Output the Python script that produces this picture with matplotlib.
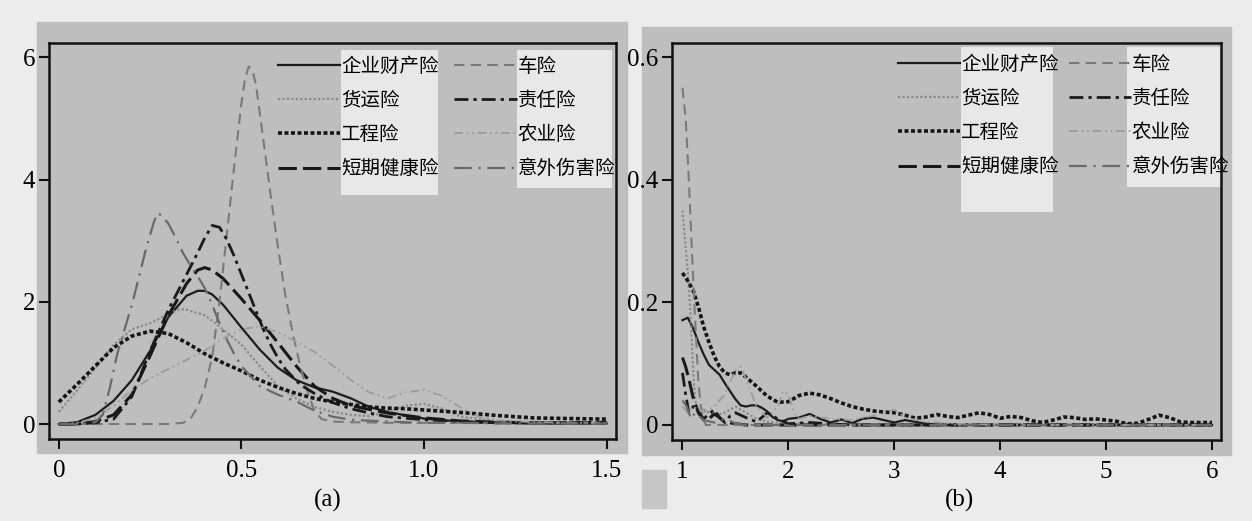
import matplotlib
matplotlib.use("Agg")
import matplotlib.pyplot as plt
from matplotlib.patches import Rectangle

# ---------------- data: panel (a) ----------------
names = ["企业财产险", "货运险", "工程险", "短期健康险", "车险", "责任险", "农业险", "意外伤害险"]

a_qy_x = [0, 0.05, 0.1, 0.15, 0.2, 0.25, 0.3, 0.35, 0.38, 0.4, 0.42, 0.45, 0.5, 0.55, 0.6, 0.65, 0.7, 0.75, 0.8, 0.85, 0.9, 0.95, 1.0, 1.1, 1.2, 1.3, 1.4, 1.5]
a_qy_y = [0.0, 0.03, 0.15, 0.38, 0.72, 1.2, 1.75, 2.1, 2.18, 2.18, 2.12, 1.95, 1.58, 1.22, 0.92, 0.72, 0.6, 0.53, 0.42, 0.28, 0.2, 0.14, 0.09, 0.04, 0.02, 0.01, 0.01, 0.01]

a_hy_x = [0, 0.05, 0.1, 0.15, 0.2, 0.25, 0.3, 0.33, 0.35, 0.4, 0.45, 0.5, 0.55, 0.6, 0.65, 0.7, 0.75, 0.8, 0.85, 0.9, 0.95, 1.0, 1.05, 1.1, 1.2, 1.3, 1.4, 1.5]
a_hy_y = [0.2, 0.55, 0.92, 1.3, 1.55, 1.65, 1.8, 1.88, 1.87, 1.78, 1.55, 1.3, 0.95, 0.62, 0.42, 0.28, 0.2, 0.15, 0.13, 0.2, 0.3, 0.33, 0.25, 0.12, 0.05, 0.03, 0.03, 0.03]

a_gc_x = [0, 0.05, 0.1, 0.15, 0.2, 0.25, 0.3, 0.35, 0.4, 0.45, 0.5, 0.55, 0.6, 0.65, 0.7, 0.75, 0.8, 0.85, 0.9, 0.95, 1.0, 1.1, 1.2, 1.3, 1.4, 1.5]
a_gc_y = [0.36, 0.65, 0.95, 1.25, 1.44, 1.52, 1.48, 1.33, 1.15, 1.0, 0.87, 0.72, 0.6, 0.5, 0.42, 0.36, 0.32, 0.28, 0.26, 0.25, 0.23, 0.19, 0.14, 0.1, 0.09, 0.08]

a_jk_x = [0, 0.05, 0.1, 0.15, 0.2, 0.25, 0.3, 0.35, 0.38, 0.4, 0.42, 0.45, 0.5, 0.55, 0.6, 0.65, 0.7, 0.75, 0.8, 0.85, 0.9, 1.0, 1.1, 1.2, 1.3, 1.4, 1.5]
a_jk_y = [0, 0.0, 0.04, 0.15, 0.48, 1.12, 1.78, 2.3, 2.52, 2.56, 2.52, 2.38, 2.05, 1.7, 1.33, 0.95, 0.62, 0.42, 0.3, 0.24, 0.18, 0.1, 0.05, 0.03, 0.02, 0.02, 0.02]

a_cx_x = [0, 0.1, 0.2, 0.3, 0.34, 0.36, 0.38, 0.40, 0.42, 0.44, 0.46, 0.48, 0.50, 0.51, 0.52, 0.53, 0.54, 0.56, 0.58, 0.60, 0.62, 0.64, 0.66, 0.68, 0.70, 0.72, 0.75, 0.8, 0.9, 1.0, 1.1, 1.2, 1.3, 1.4, 1.5]
a_cx_y = [0, 0, 0, 0, 0.02, 0.08, 0.28, 0.6, 1.1, 2.0, 3.1, 4.2, 5.25, 5.65, 5.85, 5.8, 5.55, 4.65, 3.75, 2.9, 2.12, 1.5, 0.98, 0.55, 0.22, 0.08, 0.04, 0.03, 0.02, 0.02, 0.02, 0.02, 0.02, 0.02, 0.02]

a_zr_x = [0, 0.05, 0.1, 0.15, 0.2, 0.25, 0.3, 0.35, 0.38, 0.4, 0.42, 0.44, 0.46, 0.48, 0.5, 0.52, 0.54, 0.56, 0.58, 0.6, 0.62, 0.66, 0.7, 0.75, 0.8, 0.85, 0.9, 1.0, 1.1, 1.2, 1.3, 1.4, 1.5]
a_zr_y = [0, 0, 0.02, 0.08, 0.45, 1.2, 1.87, 2.45, 2.8, 3.05, 3.25, 3.22, 3.02, 2.75, 2.45, 2.15, 1.85, 1.55, 1.3, 1.08, 0.9, 0.65, 0.5, 0.35, 0.25, 0.18, 0.12, 0.07, 0.04, 0.02, 0.02, 0.02, 0.03]

a_ny_x = [0, 0.05, 0.1, 0.15, 0.2, 0.25, 0.3, 0.35, 0.4, 0.45, 0.5, 0.55, 0.6, 0.65, 0.7, 0.75, 0.8, 0.85, 0.9, 0.95, 1.0, 1.05, 1.1, 1.15, 1.2, 1.3, 1.4, 1.5]
a_ny_y = [0, 0.02, 0.1, 0.3, 0.55, 0.75, 0.9, 1.05, 1.2, 1.4, 1.55, 1.6, 1.5, 1.35, 1.18, 0.96, 0.72, 0.52, 0.42, 0.52, 0.56, 0.46, 0.27, 0.12, 0.06, 0.03, 0.02, 0.02]

a_yw_x = [0, 0.05, 0.1, 0.12, 0.14, 0.16, 0.18, 0.2, 0.22, 0.24, 0.26, 0.27, 0.28, 0.3, 0.32, 0.34, 0.36, 0.38, 0.4, 0.42, 0.44, 0.46, 0.48, 0.5, 0.55, 0.6, 0.65, 0.7, 0.75, 0.8, 0.9, 1.0, 1.1, 1.2, 1.3, 1.4, 1.5]
a_yw_y = [0, 0, 0.03, 0.15, 0.6, 1.15, 1.55, 1.95, 2.42, 2.9, 3.3, 3.45, 3.42, 3.28, 3.05, 2.8, 2.6, 2.42, 2.22, 1.95, 1.65, 1.38, 1.15, 0.95, 0.62, 0.48, 0.37, 0.22, 0.12, 0.07, 0.04, 0.02, 0.02, 0.01, 0.01, 0.01, 0.01]

# ---------------- data: panel (b) ----------------
b_qy_x = [1.0, 1.05, 1.1, 1.15, 1.2, 1.25, 1.3, 1.35, 1.4, 1.45, 1.5, 1.55, 1.6, 1.65, 1.7, 1.75, 1.8, 1.85, 1.9, 1.95, 2.0, 2.1, 2.2, 2.3, 2.4, 2.5, 2.6, 2.7, 2.8, 2.9, 3.0, 3.1, 3.2, 3.3, 3.4, 3.5, 4.0, 5.0, 6.0]
b_qy_y = [0.171, 0.175, 0.158, 0.135, 0.115, 0.098, 0.09, 0.082, 0.068, 0.055, 0.042, 0.032, 0.03, 0.032, 0.032, 0.028, 0.022, 0.013, 0.008, 0.006, 0.01, 0.012, 0.018, 0.01, 0.004, 0.009, 0.003, 0.01, 0.012, 0.008, 0.004, 0.008, 0.005, 0.002, 0.001, 0.0, 0.0, 0.0, 0.0]

b_hy_x = [1.0, 1.02, 1.05, 1.08, 1.1, 1.12, 1.15, 1.2, 1.3, 1.4, 1.5, 1.6, 1.7, 1.8, 2.0, 2.2, 2.5, 3.0, 3.5, 4.0, 5.0, 6.0]
b_hy_y = [0.35, 0.31, 0.25, 0.17, 0.09, 0.04, 0.02, 0.025, 0.015, 0.02, 0.03, 0.02, 0.01, 0.005, 0.003, 0.002, 0.001, 0, 0, 0, 0, 0]

b_gc_x = [1.0, 1.05, 1.1, 1.15, 1.2, 1.25, 1.3, 1.35, 1.4, 1.45, 1.5, 1.55, 1.6, 1.7, 1.8, 1.9, 2.0, 2.1, 2.2, 2.3, 2.4, 2.5, 2.6, 2.7, 2.8, 2.9, 3.0, 3.1, 3.2, 3.3, 3.4, 3.5, 3.6, 3.7, 3.8, 3.9, 4.0, 4.1, 4.2, 4.3, 4.4, 4.5, 4.6, 4.7, 4.8, 4.9, 5.0, 5.1, 5.2, 5.3, 5.4, 5.5, 5.6, 5.7, 5.8, 5.9, 6.0]
b_gc_y = [0.248, 0.235, 0.22, 0.193, 0.16, 0.135, 0.112, 0.095, 0.085, 0.082, 0.085, 0.085, 0.078, 0.063, 0.047, 0.037, 0.038, 0.048, 0.052, 0.049, 0.043, 0.036, 0.03, 0.026, 0.023, 0.021, 0.02, 0.016, 0.011, 0.013, 0.017, 0.014, 0.012, 0.016, 0.02, 0.017, 0.011, 0.014, 0.012, 0.007, 0.004, 0.008, 0.013, 0.012, 0.009, 0.01, 0.008, 0.006, 0.002, 0.003, 0.009, 0.016, 0.012, 0.005, 0.004, 0.004, 0.004]

b_jk_x = [1.0, 1.03, 1.06, 1.1, 1.15, 1.2, 1.25, 1.3, 1.35, 1.4, 1.5, 1.6, 2.0, 3.0, 4.0, 5.0, 6.0]
b_jk_y = [0.11, 0.095, 0.075, 0.045, 0.02, 0.008, 0.01, 0.018, 0.012, 0.005, 0.002, 0, 0, 0, 0, 0, 0]

b_cx_x = [1.0, 1.03, 1.06, 1.09, 1.12, 1.15, 1.18, 1.22, 1.3, 2.0, 3.0, 4.0, 5.0, 6.0]
b_cx_y = [0.55, 0.5, 0.4, 0.28, 0.17, 0.07, 0.02, 0.0, 0, 0, 0, 0, 0, 0]

b_zr_x = [1.0, 1.03, 1.06, 1.1, 1.15, 1.2, 1.25, 1.3, 1.35, 1.4, 1.45, 1.5, 1.6, 1.7, 1.8, 1.9, 2.0, 2.2, 2.4, 2.6, 3.0, 4.0, 5.0, 6.0]
b_zr_y = [0.085, 0.05, 0.02, 0.03, 0.022, 0.01, 0.018, 0.025, 0.012, 0.004, 0.015, 0.02, 0.012, 0.005, 0.02, 0.01, 0.002, 0.004, 0.002, 0, 0, 0, 0, 0]

b_ny_x = [1.0, 1.05, 1.1, 1.2, 1.3, 1.4, 1.45, 1.5, 1.55, 1.6, 1.7, 1.8, 1.9, 1.95, 2.0, 2.05, 2.1, 2.2, 2.4, 2.6, 2.8, 2.9, 3.0, 3.1, 3.3, 3.6, 4.0, 5.0, 6.0]
b_ny_y = [0.03, 0.02, 0.03, 0.02, 0.03, 0.05, 0.07, 0.09, 0.095, 0.075, 0.03, 0.012, 0.03, 0.055, 0.05, 0.02, 0.01, 0.015, 0.01, 0.008, 0.015, 0.02, 0.025, 0.012, 0.005, 0.002, 0, 0, 0]

b_yw_x = [1.0, 1.04, 1.08, 1.12, 1.2, 1.3, 1.4, 1.5, 1.6, 2.0, 3.0, 4.0, 5.0, 6.0]
b_yw_y = [0.04, 0.03, 0.01, 0.02, 0.008, 0.004, 0.01, 0.003, 0, 0, 0, 0, 0, 0]

a_xticks = [0, 0.5, 1.0, 1.5]
a_xlabels = ["0", "0.5", "1.0", "1.5"]
a_yticks = [0, 2, 4, 6]
a_ylabels = ["0", "2", "4", "6"]
b_xticks = [1, 2, 3, 4, 5, 6]
b_xlabels = ["1", "2", "3", "4", "5", "6"]
b_yticks = [0, 0.2, 0.4, 0.6]
b_ylabels = ["0", "0.2", "0.4", "0.6"]

# ---------------- styles ----------------
styles = {
    "企业财产险": dict(color="#1c1c1c", lw=1.6, ls="-"),
    "货运险": dict(color="#8a8a8a", lw=1.6, ls=(0, (1, 1))),
    "工程险": dict(color="#151515", lw=2.6, ls=(0, (1.1, 0.7))),
    "短期健康险": dict(color="#181818", lw=2.2, ls=(0, (6, 2))),
    "车险": dict(color="#7a7a7a", lw=1.5, ls=(0, (5, 3))),
    "责任险": dict(color="#1a1a1a", lw=2.0, ls=(0, (5, 1.8, 1.2, 1.8))),
    "农业险": dict(color="#9c9c9c", lw=1.3, ls=(0, (5, 2, 1, 2, 1, 2))),
    "意外伤害险": dict(color="#6a6a6a", lw=1.6, ls=(0, (8, 3, 1, 3))),
}

W, H = 1252, 521
fig = plt.figure(figsize=(W / 100, H / 100), dpi=100, facecolor="#ececec")

def frect(x0, y0, x1, y1, color):
    fig.patches.append(Rectangle((x0 / W, 1 - y1 / H), (x1 - x0) / W, (y1 - y0) / H,
                                 transform=fig.transFigure, color=color, zorder=-10))

frect(37, 22, 627, 453, "#bebebe")
frect(642, 27, 1231, 455, "#bebebe")
frect(642, 470, 666, 508, "#c6c6c6")

ax_a = fig.add_axes([49 / W, 1 - 439 / H, 567 / W, 396 / H])
ax_b = fig.add_axes([672 / W, 1 - 440 / H, 549 / W, 397 / H])
ax_a.set_zorder(5)
ax_b.set_zorder(5)

a_data = {
    "企业财产险": (a_qy_x, a_qy_y), "货运险": (a_hy_x, a_hy_y), "工程险": (a_gc_x, a_gc_y),
    "短期健康险": (a_jk_x, a_jk_y), "车险": (a_cx_x, a_cx_y), "责任险": (a_zr_x, a_zr_y),
    "农业险": (a_ny_x, a_ny_y), "意外伤害险": (a_yw_x, a_yw_y),
}
b_data = {
    "企业财产险": (b_qy_x, b_qy_y), "货运险": (b_hy_x, b_hy_y), "工程险": (b_gc_x, b_gc_y),
    "短期健康险": (b_jk_x, b_jk_y), "车险": (b_cx_x, b_cx_y), "责任险": (b_zr_x, b_zr_y),
    "农业险": (b_ny_x, b_ny_y), "意外伤害险": (b_yw_x, b_yw_y),
}

tickfont = dict(family="Liberation Serif", size=18)

def setup(ax, data, xlim, ylim, xt, xl, yt, yl, patches, anchor, colsp):
    ax.set_facecolor("#bebebe")
    for (x0, y0, x1, y1) in patches:
        ax.add_patch(Rectangle((x0, y0), x1 - x0, y1 - y0, transform=ax.transAxes,
                               color="#e8e8e8", zorder=1, lw=0))
    handles = []
    for n in names:
        xs, ys = data[n]
        st = styles[n]
        h, = ax.plot(xs, ys, color=st["color"], lw=st["lw"], linestyle=st["ls"],
                     label=n, zorder=3, dash_capstyle="butt")
        handles.append(h)
    ax.set_xlim(*xlim)
    ax.set_ylim(*ylim)
    ax.set_xticks(xt)
    ax.set_xticklabels(xl, fontdict=tickfont)
    ax.set_yticks(yt)
    ax.set_yticklabels(yl, fontdict=tickfont)
    ax.tick_params(direction="out", length=7, width=1.5, color="#111111")
    ax.tick_params(axis="x", pad=8)
    ax.tick_params(axis="y", pad=3)
    for s in ax.spines.values():
        s.set_linewidth(1.8)
        s.set_color("#111111")
    leg = ax.legend(handles=handles, ncol=2, loc="upper left", bbox_to_anchor=anchor,
                    frameon=False, handlelength=3.2, handletextpad=0.05,
                    columnspacing=colsp, labelspacing=0.68, borderpad=0, borderaxespad=0,
                    prop=dict(family=["Noto Sans CJK SC", "DejaVu Sans"], size=14))
    leg.set_zorder(5)

setup(ax_a, a_data, (-0.027, 1.526), (-0.245, 6.236), a_xticks, a_xlabels, a_yticks, a_ylabels,
      [(0.515, 0.616, 0.686, 0.982), (0.825, 0.634, 0.993, 0.982)], (0.404, 0.968), 0.8)
setup(ax_b, b_data, (0.901, 6.085), (-0.0245, 0.623), b_xticks, b_xlabels, b_yticks, b_ylabels,
      [(0.526, 0.574, 0.694, 0.99), (0.829, 0.637, 1.0, 0.99)], (0.412, 0.973), 0.5)

fig.text(328 / W, 1 - 500 / H, "(a)", ha="center", va="center", family="Liberation Serif", size=18)
fig.text(959 / W, 1 - 500 / H, "(b)", ha="center", va="center", family="Liberation Serif", size=18)

fig.savefig("out.png", dpi=100, facecolor=fig.get_facecolor())
